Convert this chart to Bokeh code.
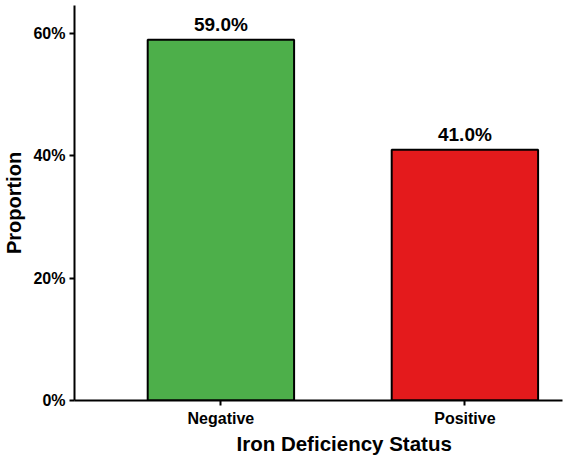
from bokeh.plotting import figure
from bokeh.models import Range1d, NumeralTickFormatter, FixedTicker, ColumnDataSource, Title
from bokeh.core.properties import value
from bokeh.embed import file_html
from bokeh.resources import INLINE

status = ["Negative", "Positive"]
proportion = [0.59, 0.41]
bar_colors = ["#4daf4a", "#e41a1c"]
labels = ["59.0%", "41.0%"]
y_ticks = [0, 0.2, 0.4, 0.6]

FONT = "Liberation Sans"

# discrete positions 1..n for the categories, labelled with their names
xpos = list(range(1, len(status) + 1))
src = ColumnDataSource(dict(x=xpos, status=status, proportion=proportion,
                            color=bar_colors, label=labels))

p = figure(
    x_range=Range1d(0.4, len(status) + 0.4),
    y_range=Range1d(0, 0.646),
    width=567, height=456,
    output_backend="svg", toolbar_location=None,
    min_border_left=74, min_border_right=5, min_border_top=5, min_border_bottom=56,
)
p.outline_line_color = None
p.xgrid.visible = False
p.ygrid.visible = False
p.background_fill_color = "white"
p.border_fill_color = "white"

p.vbar(x="x", top="proportion", width=0.6, fill_color="color",
       line_color="black", line_width=2, source=src)

p.text(x="x", y="proportion", text="label", source=src,
       text_align="center", text_baseline="bottom", y_offset=-5,
       text_font=value(FONT), text_font_style="bold", text_font_size="19px",
       text_color="black")

# y axis
p.yaxis.ticker = FixedTicker(ticks=y_ticks)
p.yaxis.formatter = NumeralTickFormatter(format="0%")
p.yaxis.axis_label = "Proportion"
p.yaxis.axis_label_text_font = FONT
p.yaxis.axis_label_text_font_style = "bold"
p.yaxis.axis_label_text_font_size = "20px"
p.yaxis.axis_label_text_color = "black"
p.yaxis.axis_label_standoff = 5

# x axis
p.xaxis.ticker = FixedTicker(ticks=xpos)
p.xaxis.major_label_overrides = {x: s for x, s in zip(xpos, status)}
p.xaxis.axis_label = None

for ax in (p.xaxis, p.yaxis):
    ax.axis_line_width = 2
    ax.axis_line_color = "black"
    ax.major_tick_line_width = 2
    ax.major_tick_line_color = "black"
    ax.major_tick_out = 5
    ax.major_tick_in = 0
    ax.minor_tick_line_color = None
    ax.major_label_text_font = FONT
    ax.major_label_text_font_style = "bold"
    ax.major_label_text_font_size = "16px"
    ax.major_label_text_color = "black"
    ax.major_label_standoff = 4

p.add_layout(Title(text="Iron Deficiency Status", align="left", offset=162,
                   text_font=FONT, text_font_style="bold", text_font_size="20.5px",
                   text_color="black", standoff=0), "below")

open("out.html", "w").write(file_html(p, INLINE))
